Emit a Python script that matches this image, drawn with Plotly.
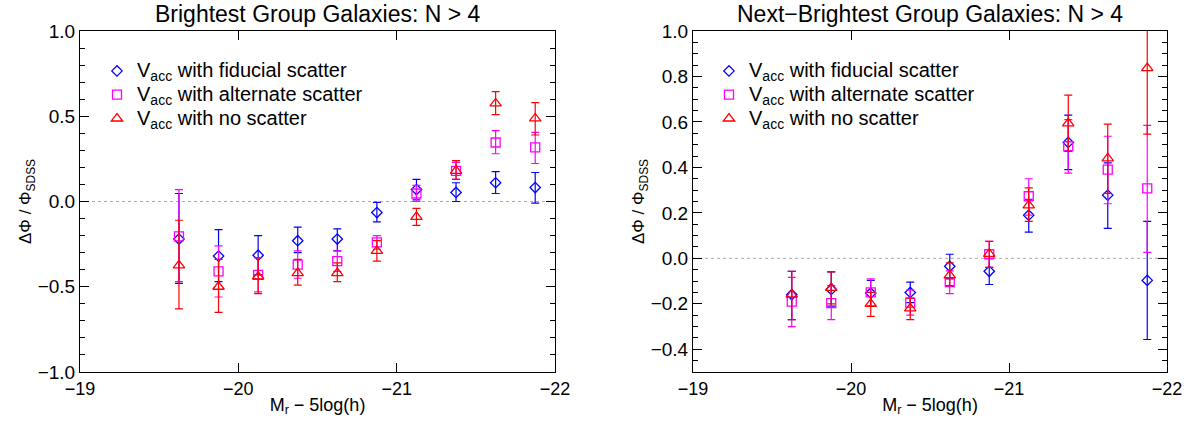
import plotly.graph_objects as go

# ---------------- data ----------------
mag = [-19.625, -19.875, -20.125, -20.375, -20.625, -20.875, -21.125, -21.375, -21.625, -21.875]

# Left panel: Brightest group galaxies
L_fid_y  = [-0.22, -0.32, -0.315, -0.23, -0.22, -0.065, 0.07, 0.053, 0.11, 0.082]
L_fid_hi = [0.047, -0.165, -0.20, -0.15, -0.16, -0.005, 0.13, 0.11, 0.175, 0.17]
L_fid_lo = [-0.48, -0.47, -0.43, -0.30, -0.29, -0.12, 0.01, 0.0, 0.047, -0.01]

L_alt_y  = [-0.205, -0.41, -0.43, -0.37, -0.35, -0.24, 0.047, 0.18, 0.346, 0.317]
L_alt_hi = [0.07, -0.26, -0.33, -0.29, -0.29, -0.20, 0.094, 0.23, 0.416, 0.405]
L_alt_lo = [-0.47, -0.56, -0.53, -0.45, -0.41, -0.28, 0.0, 0.13, 0.28, 0.223]

L_no_y  = [-0.375, -0.50, -0.44, -0.42, -0.42, -0.29, -0.09, 0.18, 0.575, 0.487]
L_no_hi = [-0.11, -0.34, -0.33, -0.34, -0.36, -0.23, -0.04, 0.24, 0.645, 0.58]
L_no_lo = [-0.63, -0.65, -0.54, -0.49, -0.47, -0.35, -0.14, 0.13, 0.51, 0.39]

# Right panel: Next-brightest group galaxies
R_fid_y  = [-0.16, -0.137, -0.153, -0.15, -0.035, -0.057, 0.19, 0.51, 0.278, -0.097]
R_fid_hi = [-0.057, -0.06, -0.097, -0.105, 0.018, 0.0, 0.26, 0.63, 0.42, 0.163]
R_fid_lo = [-0.27, -0.21, -0.21, -0.195, -0.09, -0.115, 0.115, 0.39, 0.132, -0.357]

R_alt_y  = [-0.19, -0.197, -0.15, -0.195, -0.105, 0.018, 0.273, 0.493, 0.39, 0.308]
R_alt_hi = [-0.084, -0.12, -0.09, -0.14, -0.055, 0.075, 0.35, 0.61, 0.537, 0.585]
R_alt_lo = [-0.30, -0.27, -0.21, -0.25, -0.155, -0.04, 0.19, 0.375, 0.24, 0.026]

R_no_y  = [-0.16, -0.13, -0.20, -0.22, -0.075, 0.02, 0.233, 0.594, 0.44, 0.837]
R_no_hi = [-0.057, -0.06, -0.15, -0.175, -0.02, 0.075, 0.31, 0.718, 0.59, 1.15]
R_no_lo = [-0.27, -0.20, -0.255, -0.27, -0.12, -0.04, 0.163, 0.47, 0.286, 0.546]

labels = ["V<sub>acc</sub> with fiducial scatter",
          "V<sub>acc</sub> with alternate scatter",
          "V<sub>acc</sub> with no scatter"]
titles = ["Brightest Group Galaxies: N > 4", "Next\u2212Brightest Group Galaxies: N > 4"]

# ---------------- style ----------------
FONT = "Liberation Sans, Arial, sans-serif"
colors = ["#0000ff", "#ff00ff", "#ff0000"]
symbols = ["diamond-open", "square-open", "triangle-up-open"]
sizes = [8, 9, 10]

W, H = 1189, 429
fig = go.Figure()

panels = [
    ("x", "y", "legend", [(L_fid_y, L_fid_hi, L_fid_lo), (L_alt_y, L_alt_hi, L_alt_lo), (L_no_y, L_no_hi, L_no_lo)]),
    ("x2", "y2", "legend2", [(R_fid_y, R_fid_hi, R_fid_lo), (R_alt_y, R_alt_hi, R_alt_lo), (R_no_y, R_no_hi, R_no_lo)]),
]

for xa, ya, lg, series in panels:
    for i, (yv, hi, lo) in enumerate(series):
        fig.add_trace(go.Scatter(
            x=mag, y=yv, mode="markers", xaxis=xa, yaxis=ya, legend=lg,
            name='<span style="font-size:20px">' + labels[i] + '</span>',
            marker=dict(symbol=symbols[i], size=sizes[i], color=colors[i],
                        line=dict(color=colors[i], width=1.3)),
            error_y=dict(type="data", symmetric=False,
                         array=[h - v for h, v in zip(hi, yv)],
                         arrayminus=[v - l for v, l in zip(yv, lo)],
                         color=colors[i], thickness=1.2, width=4),
            cliponaxis=True,
        ))

xdom1 = [80 / W, 555 / W]
xdom2 = [693 / W, 1167 / W]
ydom = [1 - 372 / H, 1 - 31 / H]

axis_common = dict(showline=True, linecolor="black", linewidth=1, mirror="ticks",
                   ticks="inside", tickcolor="black", showgrid=False, zeroline=False,
                   automargin=False)

xcommon = dict(axis_common, range=[-19, -22], tickvals=[-19, -20, -21, -22], ticklen=9,
               tickfont=dict(family=FONT, size=18, color="black"),
               title=dict(text="M<sub>r</sub> \u2212 5log(h)", font=dict(family=FONT, size=18, color="black"), standoff=0))

ytitle = dict(text="\u0394\u03a6 / \u03a6<sub>SDSS</sub>", font=dict(family=FONT, size=17, color="black"), standoff=1)

fig.update_layout(
    width=W, height=H,
    margin=dict(l=0, r=0, t=0, b=0, autoexpand=False),
    paper_bgcolor="white", plot_bgcolor="white",
    font=dict(family=FONT, color="black"),
    xaxis=dict(xcommon, domain=xdom1, anchor="y"),
    xaxis2=dict(xcommon, domain=xdom2, anchor="y2"),
    yaxis=dict(axis_common, domain=ydom, anchor="x", range=[-1, 1], dtick=0.5, tickformat=".1f", ticklen=9,
               tickfont=dict(family=FONT, size=19, color="black"),
               minor=dict(dtick=0.1, ticklen=5, ticks="inside", tickcolor="black"),
               title=ytitle),
    yaxis2=dict(axis_common, domain=ydom, anchor="x2", range=[-0.5, 1.0], dtick=0.2, tick0=0, tickformat=".1f", ticklen=9,
                tickfont=dict(family=FONT, size=19, color="black"),
                minor=dict(dtick=0.05, ticklen=5, ticks="inside", tickcolor="black"),
                title=ytitle),
    legend=dict(x=97 / W, y=1 - 54 / H, xanchor="left", yanchor="top",
                bgcolor="rgba(0,0,0,0)", font=dict(family=FONT, size=16, color="black"),
                itemwidth=30, tracegroupgap=0),
    legend2=dict(x=709 / W, y=1 - 54 / H, xanchor="left", yanchor="top",
                 bgcolor="rgba(0,0,0,0)", font=dict(family=FONT, size=16, color="black"),
                 itemwidth=30, tracegroupgap=0),
    showlegend=True,
    shapes=[
        dict(type="line", xref="x domain", yref="y", x0=0, x1=1, y0=0, y1=0,
             line=dict(color="#aaaaaa", width=1, dash="dot"), layer="below"),
        dict(type="line", xref="x2 domain", yref="y2", x0=0, x1=1, y0=0, y1=0,
             line=dict(color="#aaaaaa", width=1, dash="dot"), layer="below"),
    ],
    annotations=[
        dict(text=titles[0], xref="paper", yref="paper", x=(xdom1[0] + xdom1[1]) / 2, y=1 - 14 / H,
             xanchor="center", yanchor="middle", showarrow=False, font=dict(family=FONT, size=23, color="black")),
        dict(text=titles[1], xref="paper", yref="paper", x=(xdom2[0] + xdom2[1]) / 2, y=1 - 14 / H,
             xanchor="center", yanchor="middle", showarrow=False, font=dict(family=FONT, size=23, color="black")),
    ],
)

fig.write_html("out.html")
